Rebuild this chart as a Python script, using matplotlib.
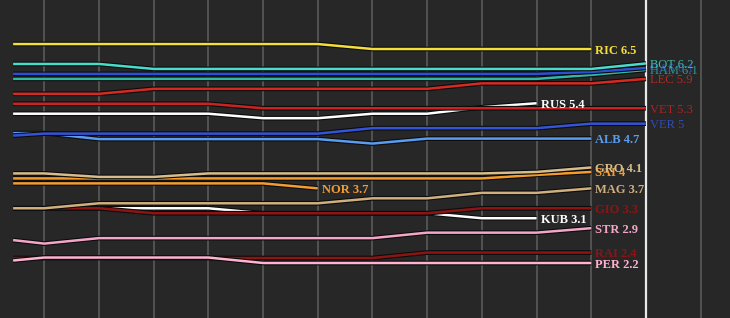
import matplotlib
matplotlib.use("Agg")
import matplotlib.pyplot as plt
import matplotlib.patheffects as pe

# ---- data ----
races = [-0.57, 0, 1, 2, 3, 4, 5, 6, 7, 8, 9, 10, 11]
current_race = 11

RIC = [6.6, 6.6, 6.6, 6.6, 6.6, 6.6, 6.6, 6.5, 6.5, 6.5, 6.5, 6.5]
BOT = [6.2, 6.2, 6.2, 6.1, 6.1, 6.1, 6.1, 6.1, 6.1, 6.1, 6.1, 6.1, 6.21]
GAS = [6.0, 6.0, 6.0, 6.0, 6.0, 6.0, 6.0, 6.0, 6.0, 6.0, 6.0, 6.04, 6.12]
HAM = [5.9, 5.9, 5.9, 5.9, 5.9, 5.9, 5.9, 5.9, 5.9, 5.9, 5.9, 5.98, 6.08]
LEC = [5.6, 5.6, 5.6, 5.7, 5.7, 5.7, 5.7, 5.7, 5.7, 5.81, 5.81, 5.81, 5.9]
VET = [5.4, 5.4, 5.4, 5.4, 5.4, 5.31, 5.31, 5.31, 5.31, 5.31, 5.31, 5.31, 5.31]
RUS = [5.2, 5.2, 5.2, 5.2, 5.2, 5.11, 5.11, 5.2, 5.2, 5.33, 5.41]
VER = [4.76, 4.8, 4.8, 4.8, 4.8, 4.8, 4.8, 4.91, 4.91, 4.91, 4.91, 5.0, 5.0]
ALB = [4.81, 4.81, 4.69, 4.69, 4.69, 4.69, 4.69, 4.6, 4.7, 4.7, 4.7, 4.7]
GRO = [4.0, 4.0, 3.93, 3.93, 4.0, 4.0, 4.0, 4.0, 4.0, 4.0, 4.03, 4.12]
SAI = [3.9, 3.9, 3.9, 3.9, 3.9, 3.9, 3.9, 3.9, 3.9, 3.9, 3.97, 4.03]
NOR = [3.8, 3.8, 3.8, 3.8, 3.8, 3.8, 3.7]
MAG = [3.3, 3.3, 3.4, 3.4, 3.4, 3.4, 3.4, 3.5, 3.5, 3.61, 3.61, 3.7]
KUB = [3.3, 3.3, 3.3, 3.3, 3.3, 3.2, 3.2, 3.2, 3.2, 3.1, 3.1]
GIO = [3.3, 3.3, 3.3, 3.2, 3.2, 3.2, 3.2, 3.2, 3.2, 3.3, 3.3, 3.3]
STR = [2.66, 2.59, 2.7, 2.7, 2.7, 2.7, 2.7, 2.7, 2.81, 2.81, 2.81, 2.9]
RAI = [2.3, 2.3, 2.3, 2.3, 2.3, 2.3, 2.3, 2.3, 2.41, 2.41, 2.41, 2.41]
PER = [2.25, 2.31, 2.31, 2.31, 2.31, 2.2, 2.2, 2.2, 2.2, 2.2, 2.2, 2.2]

# drawing order (later on top), name, values, colour
series = [
    ("KUB", KUB, "#ffffff"),
    ("GIO", GIO, "#8e1414"),
    ("RAI", RAI, "#8e1414"),
    ("PER", PER, "#ffb3d1"),
    ("STR", STR, "#f5a6c8"),
    ("MAG", MAG, "#cfb07e"),
    ("NOR", NOR, "#f39c32"),
    ("SAI", SAI, "#f59a2c"),
    ("GRO", GRO, "#d8bd8c"),
    ("ALB", ALB, "#5a9cf0"),
    ("VER", VER, "#3553d6"),
    ("RUS", RUS, "#ffffff"),
    ("VET", VET, "#cc2222"),
    ("LEC", LEC, "#d42a22"),
    ("HAM", HAM, "#2fb8a6"),
    ("GAS", GAS, "#2f4fd2"),
    ("BOT", BOT, "#48dccb"),
    ("RIC", RIC, "#f3de3c"),
]

BG = "#272727"
fig = plt.figure(figsize=(7.30, 3.18), dpi=100, facecolor=BG)
ax = fig.add_axes([0, 0, 1, 1])
ax.set_facecolor(BG)
ax.set_xlim(-0.81, 12.536)
ax.set_ylim(1.095, 7.485)
for s in ax.spines.values():
    s.set_visible(False)
ax.set_xticks([])
ax.set_yticks([])

for g in range(0, 13):
    if g == current_race:
        ax.axvline(g, color="#e8e8e8", lw=1.6, zorder=1)
    else:
        ax.axvline(g, color="#5e5e5e", lw=1.1, zorder=1)

for i, (name, vals, col) in enumerate(series):
    xs = races[:len(vals)]
    ax.plot(xs, vals, color=col, lw=1.8, zorder=3 + i * 0.01,
            solid_capstyle="butt",
            path_effects=[pe.Stroke(linewidth=3.4, foreground="#0c0c0c"), pe.Normal()])
    last = vals[-1]
    txt = f"{name} {round(last, 1):g}"
    at_current = xs[-1] == current_race
    ax.annotate(txt, (xs[-1], last), xytext=(3, 0), textcoords="offset points",
                va="center_baseline", ha="left", color=col,
                fontsize=9, family="Liberation Serif",
                fontweight="normal" if at_current else "bold",
                alpha=0.8 if at_current else 1.0,
                zorder=10 + i * 0.01)

fig.savefig("out.png", dpi=100, facecolor=BG)
